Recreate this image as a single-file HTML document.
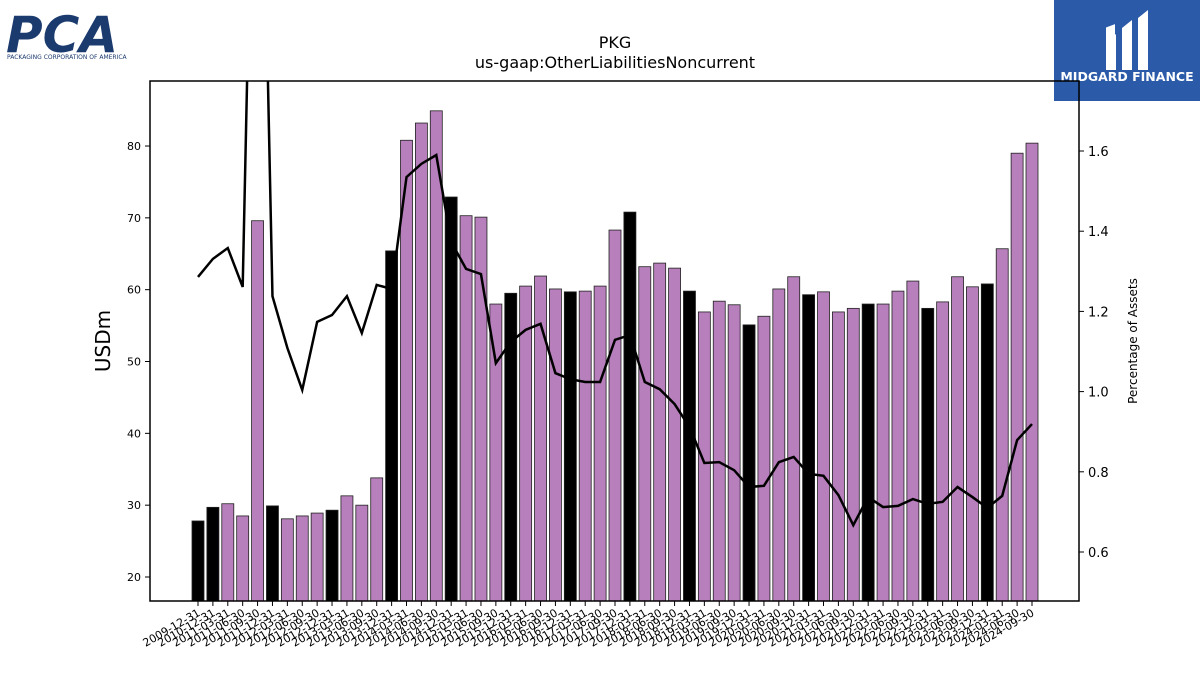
<!DOCTYPE html>
<html><head><meta charset="utf-8"><style>
body{margin:0;background:#fff;width:1200px;height:675px;overflow:hidden;font-family:"Liberation Sans","DejaVu Sans",sans-serif}
svg text{font-family:"DejaVu Sans","Liberation Sans",sans-serif}
</style></head><body>
<svg id="chart" width="1200" height="675" viewBox="0 0 1200 675" xmlns="http://www.w3.org/2000/svg">
<g>
<text x="6" y="52" font-size="50" font-weight="bold" fill="#1b3a6e" font-style="italic" font-family="Liberation Sans">PCA</text>
<text x="7" y="59" font-size="6" fill="#1b3a6e" font-family="Liberation Sans">PACKAGING CORPORATION OF AMERICA</text>
</g>
<g>
<rect x="1054" y="0" width="146" height="101" fill="#2a5aa8"/>
<rect x="1106" y="30" width="9" height="40" fill="#fff" transform="skewY(-20) translate(0,400)"/>
<path d="M1106 42 L1116 34 L1116 70 L1106 70 Z M1122 28 L1132 20 L1132 70 L1122 70 Z M1138 18 L1148 10 L1148 70 L1138 70 Z" fill="#fff"/>
<text x="1127" y="81" font-size="12.5" font-weight="bold" fill="#fff" text-anchor="middle" font-family="Liberation Sans">MIDGARD FINANCE</text>
</g>
<text x="615" y="48" font-size="16" text-anchor="middle">PKG</text>
<text x="615" y="68" font-size="16" text-anchor="middle">us-gaap:OtherLiabilitiesNoncurrent</text>
<g id="plot"></g>
</svg>
<script>
const categories = ["2009-12-31","2010-12-31","2011-03-31","2011-06-30","2011-09-30","2011-12-31","2012-03-31","2012-06-30","2012-09-30","2012-12-31","2013-03-31","2013-06-30","2013-09-30","2013-12-31","2014-03-31","2014-06-30","2014-09-30","2014-12-31","2015-03-31","2015-06-30","2015-09-30","2015-12-31","2016-03-31","2016-06-30","2016-09-30","2016-12-31","2017-03-31","2017-06-30","2017-09-30","2017-12-31","2018-03-31","2018-06-30","2018-09-30","2018-12-31","2019-03-31","2019-06-30","2019-09-30","2019-12-31","2020-03-31","2020-06-30","2020-09-30","2020-12-31","2021-03-31","2021-06-30","2021-09-30","2021-12-31","2022-03-31","2022-06-30","2022-09-30","2022-12-31","2023-03-31","2023-06-30","2023-09-30","2023-12-31","2024-03-31","2024-06-30","2024-09-30"];
const liabilities = [27.8,29.7,30.2,28.5,69.6,29.9,28.1,28.5,28.9,29.3,31.3,30.0,33.8,65.4,80.8,83.2,84.9,72.9,70.3,70.1,58.0,59.5,60.5,61.9,60.1,59.7,59.8,60.5,68.3,70.8,63.2,63.7,63.0,59.8,56.9,58.4,57.9,55.1,56.3,60.1,61.8,59.3,59.7,56.9,57.4,58.0,58.0,59.8,61.2,57.4,58.3,61.8,60.4,60.8,65.7,79.0,80.4];
const pctAssets = [1.286,1.331,1.358,1.261,3.0,1.238,1.109,1.004,1.174,1.191,1.238,1.146,1.266,1.256,1.535,1.568,1.590,1.373,1.306,1.293,1.071,1.124,1.154,1.169,1.046,1.031,1.024,1.024,1.129,1.141,1.024,1.006,0.969,0.912,0.822,0.824,0.804,0.762,0.765,0.824,0.837,0.795,0.790,0.742,0.667,0.737,0.712,0.715,0.732,0.720,0.725,0.762,0.737,0.710,0.740,0.879,0.919];
const leftTicks = [20,30,40,50,60,70,80];
const rightTicks = [0.6,0.8,1.0,1.2,1.4,1.6];

const NS="http://www.w3.org/2000/svg";
const g=document.getElementById('plot');
const L=150,R=1079,T=81,B=601;
const yL=v=>577-(v-20)*7.183;
const yR=v=>552-(v-0.6)*401;
const n=categories.length;
const xAt=i=>198+i*(1032-198)/(n-1);
function mk(tag,attrs){const e=document.createElementNS(NS,tag);for(const k in attrs)e.setAttribute(k,attrs[k]);g.appendChild(e);return e;}
const cp=mk('clipPath',{id:'clip'});g.removeChild(cp);
const cr=document.createElementNS(NS,'rect');cr.setAttribute('x',L);cr.setAttribute('y',T);cr.setAttribute('width',R-L);cr.setAttribute('height',B-T);cp.appendChild(cr);
const defs=document.createElementNS(NS,'defs');defs.appendChild(cp);g.appendChild(defs);
categories.forEach((c,i)=>{
  const x=xAt(i),y=yL(liabilities[i]);
  const isYear=c.endsWith('12-31');
  const b=mk('rect',{x:x-6,y:y,width:12,height:B-y,fill:isYear?'#000':'#b77fbb',stroke:'#222','stroke-width':0.8});
  
  
  mk('line',{x1:x,x2:x,y1:B,y2:B+5,stroke:'#000','stroke-width':1});
  const t=mk('text',{x:x+3,y:B+14,'font-size':11,'text-anchor':'end',transform:`rotate(-30 ${x+3} ${B+14})`});
  t.textContent=c;
  
  
});
const pts=pctAssets.map((v,i)=>xAt(i)+','+yR(v)).join(' ');
const line=mk('polyline',{points:pts,fill:'none',stroke:'#000','stroke-width':2.5,'clip-path':'url(#clip)'});


const fr=mk('rect',{x:L,y:T,width:R-L,height:B-T,fill:'none',stroke:'#000','stroke-width':1.5});


leftTicks.forEach(v=>{const y=yL(v);mk('line',{x1:L-5,x2:L,y1:y,y2:y,stroke:'#000'});
  const t=mk('text',{x:L-9,y:y+4,'font-size':11,'text-anchor':'end'});t.textContent=v;
  
  });
rightTicks.forEach(v=>{const y=yR(v);mk('line',{x1:R,x2:R+5,y1:y,y2:y,stroke:'#000'});
  const t=mk('text',{x:R+9,y:y+5,'font-size':13});t.textContent=v.toFixed(1);
  
  });
const yt=mk('text',{x:110,y:341,'font-size':20,'text-anchor':'middle',transform:'rotate(-90 110 341)'});yt.textContent='USDm';


const yt2=mk('text',{x:1137,y:341,'font-size':12,'text-anchor':'middle',transform:'rotate(-90 1137 341)'});yt2.textContent='Percentage of Assets';


</script>
</body></html>
